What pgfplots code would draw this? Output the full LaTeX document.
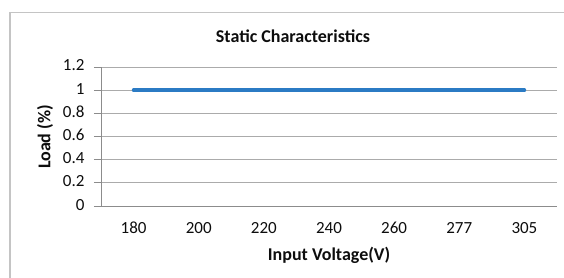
\documentclass[border=0pt]{standalone}
\usepackage{fontspec}
\setmainfont{Carlito}
\usepackage{pgfplots}
\pgfplotsset{compat=1.18}
\definecolor{lineblue}{HTML}{2B7BC4}
\definecolor{gridgrey}{HTML}{ABABAB}
\definecolor{axisgrey}{HTML}{8C8C8C}
\definecolor{bordergrey}{HTML}{C4C4C4}
\definecolor{txt}{HTML}{0D0D0D}
\begin{document}
\begin{tikzpicture}
\useasboundingbox (0,0) rectangle (564bp,278bp);
\draw[bordergrey, line width=1.4bp] (10bp,-10bp) -- (10bp,265.3bp) -- (580bp,265.3bp);
\begin{axis}[
  at={(101bp,72bp)}, anchor=south west,
  scale only axis, width=456bp, height=139bp,
  xmin=-0.5, xmax=6.5, ymin=0, ymax=1.2,
  xtick={0,1,2,3,4,5,6},
  xticklabels={180,200,220,240,260,277,305},
  ytick={0,0.2,0.4,0.6,0.8,1,1.2},
  yticklabels={0,0.2,0.4,0.6,0.8,1,1.2},
  axis x line=bottom, axis y line=left,
  axis line style={-, axisgrey, line width=0.9bp},
  tick align=outside,
  major tick length=7bp,
  xtick style={draw=none},
  ytick style={axisgrey, line width=0.9bp},
  ymajorgrids,
  grid style={gridgrey, line width=0.9bp},
  tick label style={font=\fontsize{17bp}{20bp}\selectfont, text=txt},
  typeset ticklabels with strut,
  yticklabel style={xshift=-6bp},
  xticklabel style={yshift=-3bp},
  /pgf/number format/assume math mode=true,
  clip=false,
]
\addplot[color=lineblue, line width=3.6bp, line cap=round] coordinates {(0,1)(1,1)(2,1)(3,1)(4,1)(5,1)(6,1)};
\end{axis}
\node[font=\bfseries\fontsize{18bp}{20bp}\selectfont, text=txt] at (293bp,242bp) {Static Characteristics};
\node[font=\bfseries\fontsize{18bp}{20bp}\selectfont, text=txt] at (329bp,23bp) {Input Voltage(V)};
\node[font=\bfseries\fontsize{18bp}{20bp}\selectfont, text=txt, rotate=90] at (45bp,141bp) {Load (\%)};
\end{tikzpicture}
\end{document}
